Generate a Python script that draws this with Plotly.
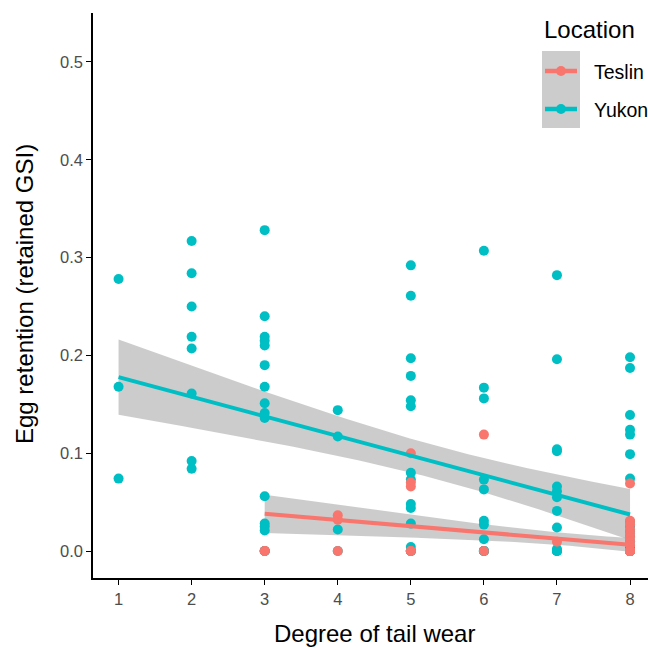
import numpy as np
import plotly.graph_objects as go

# ---- data (overlapping points near 0 are estimated) ----
wear_levels = [1, 2, 3, 4, 5, 6, 7, 8]

yukon_gsi = {
    1: [0.278, 0.168, 0.074],
    2: [0.317, 0.284, 0.250, 0.219, 0.207, 0.161, 0.092, 0.084],
    3: [0.328, 0.240, 0.219, 0.215, 0.210, 0.190, 0.168, 0.151, 0.141, 0.136,
        0.056, 0.028, 0.025, 0.021, 0.0, 0.0, 0.0],
    4: [0.144, 0.117, 0.022, 0.0],
    5: [0.292, 0.261, 0.197, 0.179, 0.154, 0.148, 0.080, 0.073, 0.048, 0.044,
        0.028, 0.004, 0.0, 0.0, 0.0, 0.0],
    6: [0.307, 0.167, 0.156, 0.073, 0.063, 0.031, 0.027, 0.012, 0.0, 0.0, 0.0, 0.0],
    7: [0.282, 0.196, 0.104, 0.102, 0.066, 0.061, 0.055, 0.041, 0.024, 0.002,
        0.0, 0.0, 0.0, 0.0],
    8: [0.198, 0.187, 0.139, 0.124, 0.119, 0.099, 0.074,
        0.030, 0.025, 0.020, 0.015, 0.010, 0.005,
        0.0, 0.0, 0.0, 0.0, 0.0, 0.0, 0.0, 0.0, 0.0, 0.0, 0.0, 0.0, 0.0],
}

teslin_gsi = {
    3: [0.0, 0.0],
    4: [0.0365, 0.032, 0.0],
    5: [0.0999, 0.070, 0.066, 0.0, 0.0],
    6: [0.119, 0.0],
    7: [0.0095],
    8: [0.069, 0.031, 0.027, 0.022, 0.018, 0.014, 0.010, 0.006, 0.003,
        0.0, 0.0, 0.0, 0.0, 0.0, 0.0, 0.0, 0.0, 0.0, 0.0,
        0.0, 0.0, 0.0, 0.0, 0.0, 0.0, 0.0, 0.0, 0.0, 0.0,
        0.0, 0.0, 0.0, 0.0, 0.0, 0.0, 0.0, 0.0, 0.0, 0.0,
        0.0, 0.0, 0.0, 0.0, 0.0, 0.0],
}

locations = ["Teslin", "Yukon"]
colors = {"Teslin": "#F8766D", "Yukon": "#00BFC4"}
y_ticks = [0.0, 0.1, 0.2, 0.3, 0.4, 0.5]


def flatten(d):
    xs, ys = [], []
    for k in wear_levels:
        for v in d.get(k, []):
            xs.append(k)
            ys.append(v)
    return np.array(xs, float), np.array(ys, float)


def t_quantile(df, z=1.959964):
    return (z + (z**3 + z) / (4 * df) + (5 * z**5 + 16 * z**3 + 3 * z) / (96 * df**2)
            + (3 * z**7 + 19 * z**5 + 17 * z**3 - 15 * z) / (384 * df**3))


def lm_fit(x, y, n_grid=80):
    n = len(x)
    b1, b0 = np.polyfit(x, y, 1)
    resid = y - (b0 + b1 * x)
    s = np.sqrt(np.sum(resid**2) / (n - 2))
    xm = x.mean()
    sxx = np.sum((x - xm) ** 2)
    grid = np.linspace(x.min(), x.max(), n_grid)
    fit = b0 + b1 * grid
    se = s * np.sqrt(1 / n + (grid - xm) ** 2 / sxx)
    t = t_quantile(n - 2)
    return grid, fit, fit - t * se, fit + t * se


data = {"Teslin": flatten(teslin_gsi), "Yukon": flatten(yukon_gsi)}
fits = {loc: lm_fit(*data[loc]) for loc in locations}

fig = go.Figure()

# confidence bands
for loc in locations:
    gx, fit, lo, hi = fits[loc]
    fig.add_trace(go.Scatter(
        x=np.concatenate([gx, gx[::-1]]), y=np.concatenate([hi, lo[::-1]]),
        fill="toself", fillcolor="rgba(153,153,153,0.5)", line=dict(width=0),
        mode="lines", hoverinfo="skip", showlegend=False))

# points (Yukon first so Teslin sits on top)
for loc in ["Yukon", "Teslin"]:
    fig.add_trace(go.Scatter(
        x=data[loc][0], y=data[loc][1], mode="markers",
        marker=dict(color=colors[loc], size=10), showlegend=False))

# fitted lines
for loc in locations:
    gx, fit, lo, hi = fits[loc]
    fig.add_trace(go.Scatter(
        x=gx, y=fit, mode="lines", line=dict(color=colors[loc], width=4),
        showlegend=False))

# --- layout ---
L, T, R, B = 93, 13, 0, 70
W, H = 648, 648
PW, PH = W - L - R, H - T - B


def px(xw):   # pixel x -> paper x
    return (xw - L) / PW


def py(yw):   # pixel y -> paper y
    return (H - B - yw) / PH


fig.update_layout(
    width=W, height=H,
    margin=dict(l=L, r=R, t=T, b=B),
    paper_bgcolor="white", plot_bgcolor="white",
    font=dict(family="Liberation Sans, Arial, sans-serif", color="black"),
    showlegend=False,
)

fig.update_xaxes(
    range=[0.65, 8.246], tickvals=wear_levels, ticktext=[str(v) for v in wear_levels],
    showline=True, linecolor="black", linewidth=1.5, showgrid=False, zeroline=False,
    ticks="outside", ticklen=5, tickwidth=1.3, tickcolor="black",
    tickfont=dict(size=16.5, color="#4D4D4D"))

fig.update_yaxes(
    range=[-0.0276, 0.550], tickvals=y_ticks, ticktext=[f"{v:.1f}" for v in y_ticks],
    showline=True, linecolor="black", linewidth=1.5, showgrid=False, zeroline=False,
    ticks="outside", ticklen=5, tickwidth=1.3, tickcolor="black",
    tickfont=dict(size=16.5, color="#4D4D4D"))

# axis titles
fig.add_annotation(text="Degree of tail wear", xref="paper", yref="paper",
                   x=px(374.5), y=py(633), xanchor="center", yanchor="middle",
                   showarrow=False, font=dict(size=24, color="black"))
fig.add_annotation(text="Egg retention (retained GSI)", xref="paper", yref="paper",
                   x=px(24), y=py(294), xanchor="center", yanchor="middle",
                   textangle=-90, showarrow=False, font=dict(size=24, color="black"))

# legend (ggplot style: grey key background)
fig.add_shape(type="rect", xref="paper", yref="paper",
              x0=px(542), x1=px(580), y0=py(128), y1=py(51),
              fillcolor="#CCCCCC", line=dict(width=0), layer="below")
fig.add_annotation(text="Location", xref="paper", yref="paper",
                   x=px(542), y=py(29), xanchor="left", yanchor="middle",
                   showarrow=False, font=dict(size=24, color="black"))
for loc, yc in zip(locations, [71, 109]):
    fig.add_shape(type="line", xref="paper", yref="paper",
                  x0=px(545), x1=px(577), y0=py(yc), y1=py(yc),
                  line=dict(color=colors[loc], width=4.5))
    fig.add_shape(type="circle", xref="paper", yref="paper",
                  x0=px(556), x1=px(566), y0=py(yc + 5), y1=py(yc - 5),
                  fillcolor=colors[loc], line=dict(width=0))
    fig.add_annotation(text=loc, xref="paper", yref="paper",
                       x=px(592), y=py(yc + 1), xanchor="left", yanchor="middle",
                       showarrow=False, font=dict(size=19.5, color="black"))

fig.write_html("out.html",
               config={"displayModeBar": False},
               post_script="document.body.style.margin='0px';"
                           "document.body.style.overflow='hidden';")
